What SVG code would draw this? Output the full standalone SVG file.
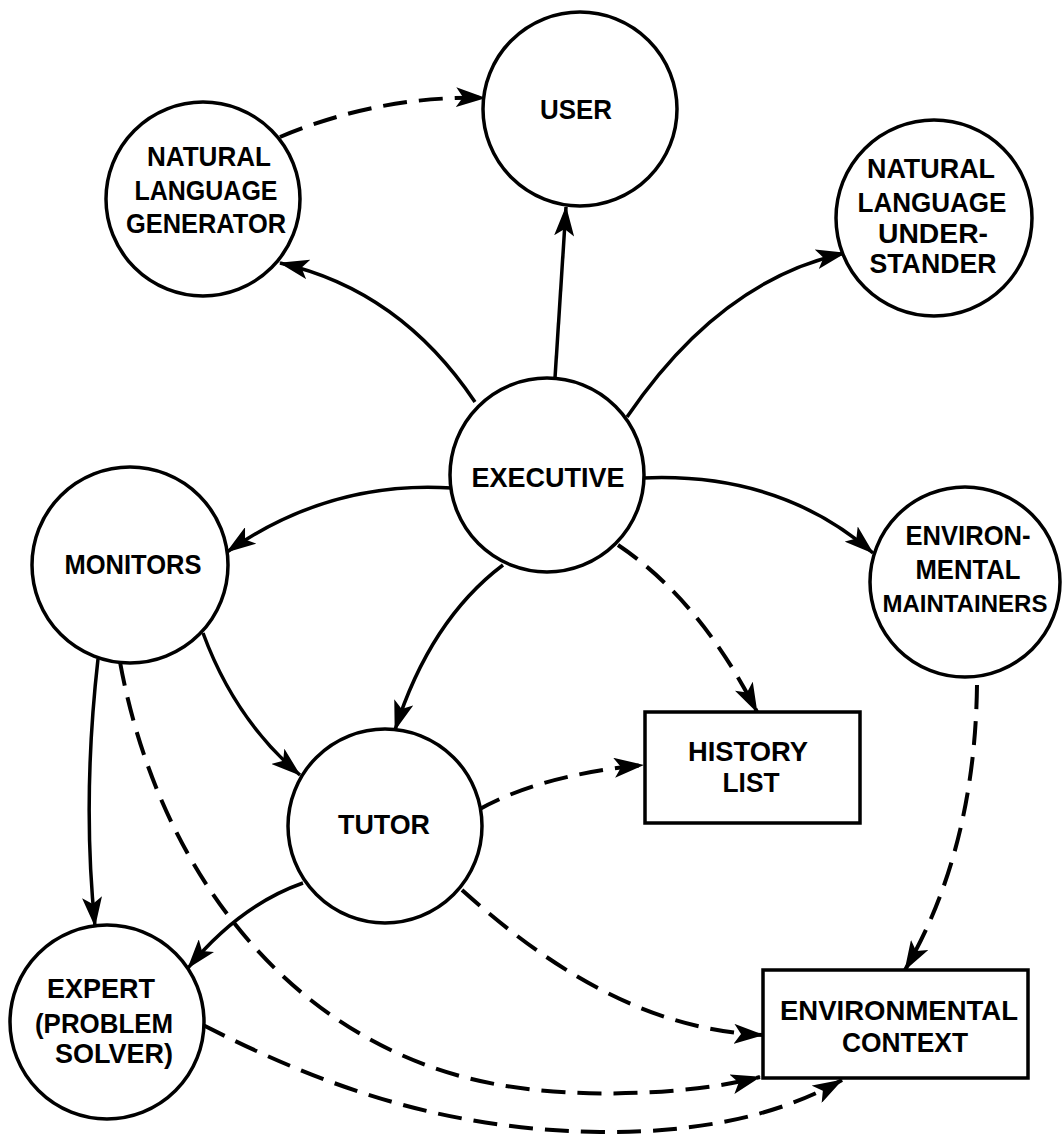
<svg xmlns="http://www.w3.org/2000/svg" width="1062" height="1141" viewBox="0 0 1062 1141">
<style>
.node{fill:#fff;stroke:#000;stroke-width:3.5}
.lbl{font-family:"Liberation Sans",Arial,sans-serif;font-weight:bold;font-size:28px;text-anchor:middle;fill:#000}
.c{fill:none;stroke:#000;stroke-width:3.5;marker-end:url(#ah)}
.d{fill:none;stroke:#000;stroke-width:4;stroke-dasharray:24 12;marker-end:url(#ah)}
</style>
<defs>
<marker id="ah" viewBox="0 0 30 20" refX="29" refY="10" markerWidth="30" markerHeight="20" markerUnits="userSpaceOnUse" orient="auto">
<path d="M0,0 L30,10 L0,20 L7,10 Z" fill="#000"/>
</marker>
</defs>
<rect width="1062" height="1141" fill="#fff"/>
<g id="connectors">
<path class="d" d="M280,137 Q380,95 485,98"/>
<path class="c" d="M555,378 L566,207"/>
<path class="c" d="M475,402 Q400,290 280,263"/>
<path class="c" d="M627,417 Q720,280 845,253"/>
<path class="c" d="M452,488 Q330,480 227,552"/>
<path class="c" d="M643,478 Q780,472 873,553"/>
<path class="c" d="M503,565 Q430,620 395,730"/>
<path class="d" d="M618,545 Q700,600 757,712"/>
<path class="c" d="M203,633 Q235,720 300,775"/>
<path class="c" d="M98,659 Q82,800 95,926"/>
<path class="d" d="M120,662 C160,880 300,1050 500,1085 C580,1099 690,1095 760,1077"/>
<path class="d" d="M478,810 Q540,775 643,765"/>
<path class="c" d="M303,883 Q240,905 188,968"/>
<path class="d" d="M462,890 C540,960 640,1030 763,1035"/>
<path class="d" d="M203,1025 C330,1090 450,1130 600,1132 C700,1133 780,1115 842,1080"/>
<path class="d" d="M977,685 Q975,850 905,970"/>
</g>
<g id="user">
<circle class="node" cx="580" cy="109" r="97"/>
<text class="lbl" x="576" y="119" textLength="72" lengthAdjust="spacingAndGlyphs">USER</text>
</g>
<g id="nl-generator">
<circle class="node" cx="203" cy="199" r="97"/>
<text class="lbl" x="209" y="166" textLength="124" lengthAdjust="spacingAndGlyphs">NATURAL</text>
<text class="lbl" x="206" y="200" textLength="143" lengthAdjust="spacingAndGlyphs">LANGUAGE</text>
<text class="lbl" x="206" y="233" textLength="160" lengthAdjust="spacingAndGlyphs">GENERATOR</text>
</g>
<g id="nl-understander">
<circle class="node" cx="934" cy="218" r="98"/>
<text class="lbl" x="931" y="178" textLength="128" lengthAdjust="spacingAndGlyphs">NATURAL</text>
<text class="lbl" x="932" y="212" textLength="149" lengthAdjust="spacingAndGlyphs">LANGUAGE</text>
<text class="lbl" x="933" y="243" textLength="110" lengthAdjust="spacingAndGlyphs">UNDER-</text>
<text class="lbl" x="933" y="273" textLength="127" lengthAdjust="spacingAndGlyphs">STANDER</text>
</g>
<g id="executive">
<circle class="node" cx="547" cy="475" r="97"/>
<text class="lbl" x="548" y="487" textLength="153" lengthAdjust="spacingAndGlyphs">EXECUTIVE</text>
</g>
<g id="monitors">
<circle class="node" cx="130" cy="565" r="98"/>
<text class="lbl" x="133" y="574" textLength="137" lengthAdjust="spacingAndGlyphs">MONITORS</text>
</g>
<g id="env-maintainers">
<circle class="node" cx="965" cy="582" r="95"/>
<text class="lbl" x="968" y="545" textLength="125" lengthAdjust="spacingAndGlyphs">ENVIRON-</text>
<text class="lbl" x="968" y="579" textLength="105" lengthAdjust="spacingAndGlyphs">MENTAL</text>
<text class="lbl" x="965" y="612" style="font-size:24px">MAINTAINERS</text>
</g>
<g id="tutor">
<circle class="node" cx="385" cy="826" r="97"/>
<text class="lbl" x="384" y="834" textLength="92" lengthAdjust="spacingAndGlyphs">TUTOR</text>
</g>
<g id="history-list">
<rect class="node" x="645" y="712" width="215" height="111"/>
<text class="lbl" x="748" y="761" textLength="120" lengthAdjust="spacingAndGlyphs">HISTORY</text>
<text class="lbl" x="751" y="792" textLength="57" lengthAdjust="spacingAndGlyphs">LIST</text>
</g>
<g id="expert">
<circle class="node" cx="107" cy="1022" r="97"/>
<text class="lbl" x="101" y="998" textLength="108" lengthAdjust="spacingAndGlyphs">EXPERT</text>
<text class="lbl" x="104" y="1033" textLength="138" lengthAdjust="spacingAndGlyphs">(PROBLEM</text>
<text class="lbl" x="114" y="1063" textLength="118" lengthAdjust="spacingAndGlyphs">SOLVER)</text>
</g>
<g id="env-context">
<rect class="node" x="763" y="970" width="265" height="108"/>
<text class="lbl" x="899" y="1020" textLength="238" lengthAdjust="spacingAndGlyphs">ENVIRONMENTAL</text>
<text class="lbl" x="905" y="1052" textLength="126" lengthAdjust="spacingAndGlyphs">CONTEXT</text>
</g>
</svg>
